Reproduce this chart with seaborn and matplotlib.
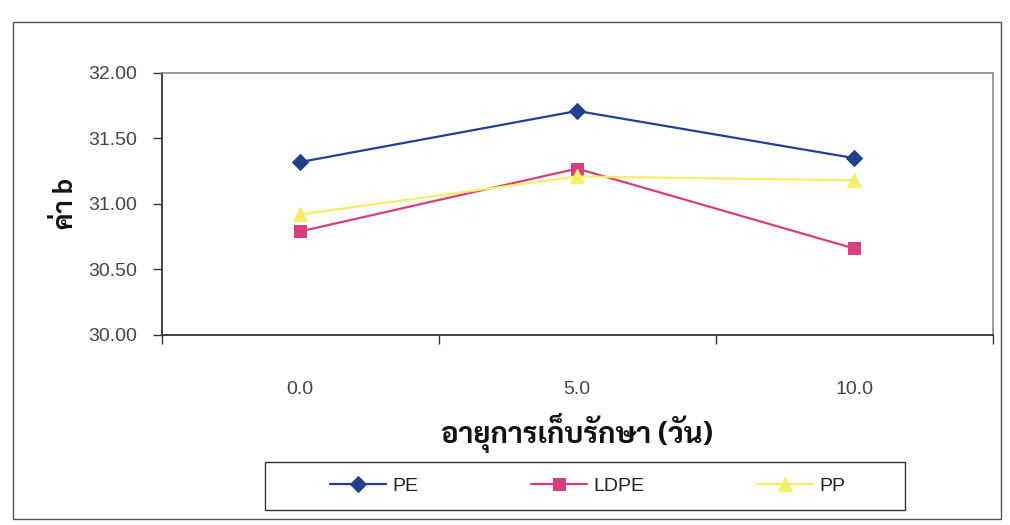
import matplotlib
matplotlib.use("Agg")
import matplotlib.pyplot as plt
from matplotlib.patches import Rectangle
import seaborn as sns
import pandas as pd

# storage time (days) and b* colour values per packaging film
days = ["0.0", "5.0", "10.0"]
pe = [31.32, 31.71, 31.35]
ldpe = [30.79, 31.27, 30.66]
pp = [30.92, 31.21, 31.18]

series_names = ["PE", "LDPE", "PP"]
colors = ["#22408e", "#d63f7d", "#f4ef6a"]
markers = ["D", "s", "^"]
marker_sizes = [8.5, 8, 9.5]

y_ticks = [30.00, 30.50, 31.00, 31.50, 32.00]
x_label = "อายุการเก็บรักษา (วัน)"
y_label = "ค่า b"

sns.set_theme(style="white")
plt.rcParams["font.family"] = ["Liberation Sans", "DejaVu Sans"]
thai_font = ["Sarabun", "DejaVu Sans"]

fig = plt.figure(figsize=(10.10, 5.25), dpi=100)
fig.patch.set_facecolor("white")
ax = fig.add_axes([0.160, 0.362, 0.823, 0.499])

df = pd.DataFrame({"day": days * 3,
                   "b": pe + ldpe + pp,
                   "film": [n for n in series_names for _ in days]})

for name, c, m, ms in zip(series_names, colors, markers, marker_sizes):
    sub = df[df["film"] == name]
    sns.lineplot(data=sub, x="day", y="b", ax=ax, color=c, marker=m,
                 markersize=ms, markeredgecolor=c, linewidth=1.6,
                 label=name, sort=False)

ax.set_xlim(-0.5, len(days) - 0.5)
ax.set_ylim(y_ticks[0], y_ticks[-1])
ax.set_yticks(y_ticks)
ax.set_yticklabels([f"{v:.2f}" for v in y_ticks])

# category axis: labels at the centres, tick marks on the boundaries
ax.set_xticks(range(len(days)))
ax.set_xticklabels(days)
ax.set_xticks([i - 0.5 for i in range(len(days) + 1)], minor=True)
ax.tick_params(axis="x", which="major", length=0, pad=33,
               labelsize=14, labelcolor="#444444")
ax.tick_params(axis="x", which="minor", bottom=True, direction="out",
               length=6.5, width=1.0, color="#333333")
ax.tick_params(axis="y", which="major", left=True, direction="out",
               length=6.5, width=1.0, color="#333333",
               labelsize=14, labelcolor="#444444", pad=11)

for side in ["left", "bottom"]:
    ax.spines[side].set_color("#333333")
    ax.spines[side].set_linewidth(1.3)
for side in ["top", "right"]:
    ax.spines[side].set_color("#8a8a8a")
    ax.spines[side].set_linewidth(1.2)
    ax.spines[side].set_visible(True)

ax.set_xlabel(x_label, fontsize=21, fontweight="bold", family=thai_font,
              color="#111111", va="center")
ax.xaxis.set_label_coords(0.5, -0.374)
ax.set_ylabel(y_label, fontsize=19, fontweight="bold", family=thai_font,
              color="#111111", labelpad=7)

handles, labels = ax.get_legend_handles_labels()
ax.legend_.remove()
leg = fig.legend(handles, labels, ncol=3, loc="center",
                 bbox_to_anchor=(0.582, 0.074), frameon=False,
                 fontsize=14, handlelength=2.85, columnspacing=5.8,
                 handletextpad=0.35)
for t in leg.get_texts():
    t.set_color("#222222")

# legend box and outer chart-area border
fig.patches.append(Rectangle((0.2624, 0.0286), 0.6337, 0.0914,
                             transform=fig.transFigure, fill=False,
                             edgecolor="#333333", linewidth=1.0))
fig.patches.append(Rectangle((0.013, 0.012), 0.978, 0.946,
                             transform=fig.transFigure, fill=False,
                             edgecolor="#555555", linewidth=1.0))

fig.savefig("out.png", dpi=100, facecolor="white")
